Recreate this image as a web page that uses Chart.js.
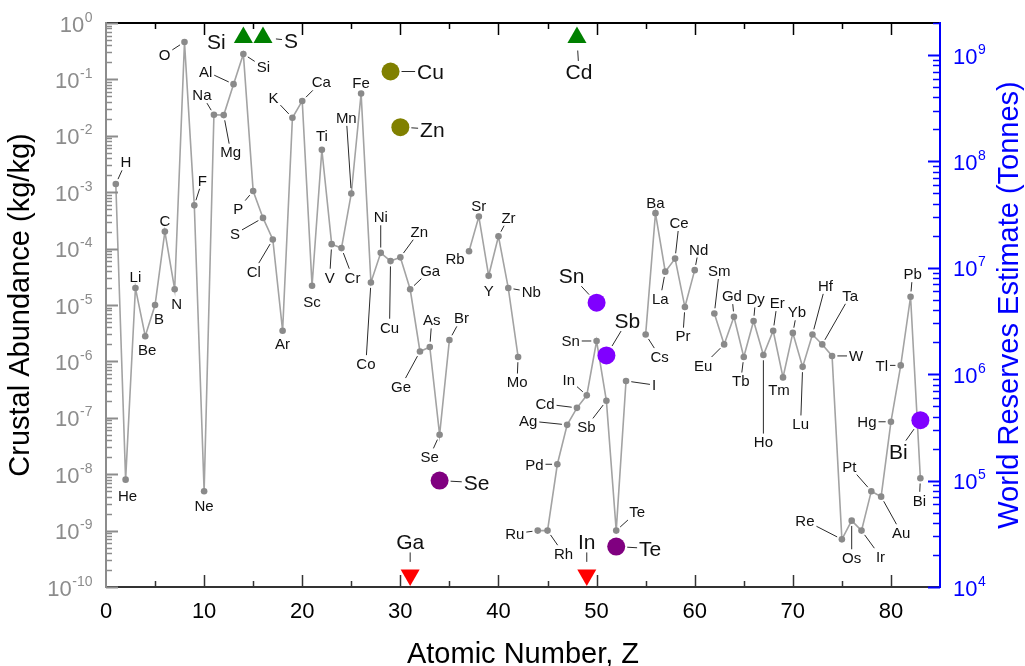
<!DOCTYPE html>
<html>
<head>
<meta charset="utf-8">
<script src="https://cdn.jsdelivr.net/npm/chart.js@4.4.1/dist/chart.umd.min.js"></script>
<style>
html,body{margin:0;padding:0;background:#fff;}
#wrap{width:1025px;height:666px;}
</style>
</head>
<body>
<div id="wrap"><canvas id="c" width="1025" height="666"></canvas></div>
<script>
// ---------------- DATA ----------------
const elementSymbols = ['H','He','Li','Be','B','C','N','O','F','Ne','Na','Mg','Al','Si','P','S','Cl','Ar','K','Ca',
  'Sc','Ti','V','Cr','Mn','Fe','Co','Ni','Cu','Zn','Ga','Ge','As','Se','Br','Kr','Rb','Sr','Y','Zr',
  'Nb','Mo','Tc','Ru','Rh','Pd','Ag','Cd','In','Sn','Sb','Te','I','Xe','Cs','Ba','La','Ce','Pr','Nd',
  'Pm','Sm','Eu','Gd','Tb','Dy','Ho','Er','Tm','Yb','Lu','Hf','Ta','W','Re','Os','Ir','Pt','Au','Hg',
  'Tl','Pb','Bi'];
// crustal abundance (kg/kg), index = Z-1 ; null = not plotted
const crustalAbundance = [1.4e-3,8e-9,2.0e-5,2.8e-6,1.0e-5,2.0e-4,1.9e-5,4.61e-1,5.85e-4,5e-9,
  2.36e-2,2.33e-2,8.23e-2,2.82e-1,1.05e-3,3.5e-4,1.45e-4,3.5e-6,2.09e-2,4.15e-2,
  2.2e-5,5.65e-3,1.2e-4,1.02e-4,9.5e-4,5.63e-2,2.5e-5,8.4e-5,6.0e-5,7.0e-5,
  1.9e-5,1.5e-6,1.8e-6,5e-8,2.4e-6,null,9e-5,3.7e-4,3.3e-5,1.65e-4,
  2.0e-5,1.2e-6,null,1e-9,1e-9,1.5e-8,7.5e-8,1.5e-7,2.5e-7,2.3e-6,
  2e-7,1e-9,4.5e-7,null,3e-6,4.25e-4,3.9e-5,6.65e-5,9.2e-6,4.15e-5,
  null,7.05e-6,2e-6,6.2e-6,1.2e-6,5.2e-6,1.3e-6,3.5e-6,5.2e-7,3.2e-6,
  8e-7,3e-6,2e-6,1.25e-6,7e-10,1.5e-9,1e-9,5e-9,4e-9,8.5e-8,
  8.5e-7,1.4e-5,8.5e-9];

// world reserves estimate (tonnes)
const reserveSymbols = ['Si','S','Cu','Zn','Ga','Se','Cd','In','Sn','Sb','Te','Bi'];
const reserveZ       = [14,16,29,30,31,34,48,49,50,51,52,83];
const reserveTonnes  = [1.46e9,1.46e9,7.0e8,2.1e8,1.3e4,1.0e5,1.46e9,1.3e4,4.7e6,1.5e6,2.4e4,3.7e5];
const reserveGroup   = ['above','above','olive','olive','below','purple','above','below','violet','violet','purple','violet'];

// tick labels
const xTickValues = [0,10,20,30,40,50,60,70,80];
const leftTickExponents = [-10,-9,-8,-7,-6,-5,-4,-3,-2,-1,0];
const rightTickExponents = [4,5,6,7,8,9];

// ---------------- STYLE / LAYOUT ----------------
const FONT = "'Liberation Sans', Arial, Helvetica, sans-serif";
const f = s => s + 'px ' + FONT;
const GRAY_AXIS = 'rgb(140,140,140)';
const BLUE = '#0000ff';

const groupStyles = {
  above:  {color:'#008000', style:'triangle', radius:11, rotation:0},
  below:  {color:'#ff0000', style:'triangle', radius:11, rotation:180},
  olive:  {color:'#808000', style:'circle', radius:9, rotation:0},
  purple: {color:'#800080', style:'circle', radius:9, rotation:0},
  violet: {color:'#8000ff', style:'circle', radius:9, rotation:0}
};

// label offsets for small element labels: [dx, dy, leader]
const labelOffsets = {
  H:[10,-22,1], He:[2,16,0], Li:[0,-11,0], Be:[2,13,0], B:[4,14,0], C:[0,-11,0], N:[2,14,0], O:[-20,13,1],
  F:[8,-25,1], Ne:[0,14,0], Na:[-12,-20,1], Mg:[7,37,1], Al:[-28,-13,1], Si:[20,13,1], P:[-15,18,1],
  S:[-28,16,1], Cl:[-19,32,1], Ar:[0,13,0], K:[-19,-20,1], Ca:[19,-19,1], Sc:[0,16,0], Ti:[0,-14,0],
  V:[-2,33,1], Cr:[11,29,1], Mn:[-5,-76,1], Fe:[0,-11,0], Co:[-5,81,1], Ni:[0,-36,1], Cu:[-1,66,1],
  Zn:[19,-26,1], Ga:[20,-19,1], Ge:[-19,35,1], As:[2,-27,1], Se:[-10,22,1], Br:[12,-22,1], Rb:[-14,7,0],
  Sr:[0,-11,0], Y:[0,15,0], Zr:[10,-19,1], Nb:[23,4,1], Mo:[-1,25,1], Ru:[-23,3,1], Rh:[16,23,1],
  Pd:[-23,0,1], Ag:[-39,-4,1], Cd:[-32,-4,1], In:[-18,-16,1], Sn:[-26,0,1], Sb:[-20,26,1], Te:[21,-19,1],
  I:[28,4,1], Cs:[14,22,1], Ba:[0,-11,0], La:[-5,27,1], Ce:[4,-36,1], Pr:[-2,29,1], Nd:[4,-21,1],
  Sm:[5,-43,1], Eu:[-21,21,1], Gd:[-2,-21,1], Tb:[-3,24,1], Dy:[2,-22,1], Ho:[0,87,1], Er:[4,-28,1],
  Tm:[-4,12,0], Yb:[4,-21,1], Lu:[-2,57,1], Hf:[13,-49,1], Ta:[28,-49,1], W:[24,0,1], Re:[-37,-19,1],
  Os:[0,37,1], Ir:[19,26,1], Pt:[-22,-25,1], Au:[20,36,1], Hg:[-24,0,1], Tl:[-19,0,1], Pb:[2,-23,1],
  Bi:[-1,22,1]
};
const reserveLabelOffsets = {
  Si:[-27,4], S:[28,3], Cd:[2,34], Cu:[40,0], Zn:[32,2], Se:[37,2], Sn:[-25,-27], Sb:[21,-35],
  Te:[34,2], Bi:[-22,31], Ga:[0,-33], In:[0,-33]
};

// ---------------- DATASETS ----------------
const mainData = elementSymbols.map((s, i) => ({x: i + 1, y: crustalAbundance[i]}));

const groups = ['olive','purple','violet','above','below'];
const reserveDatasets = groups.map(g => {
  const st = groupStyles[g];
  const pts = [];
  reserveSymbols.forEach((s, i) => { if (reserveGroup[i] === g) pts.push({x: reserveZ[i], y: reserveTonnes[i], sym: s}); });
  return {
    label: 'reserves-' + g, data: pts, yAxisID: 'y2', xAxisID: 'x', showLine: false,
    pointStyle: st.style, pointRadius: st.radius, pointRotation: st.rotation,
    pointBackgroundColor: st.color, pointBorderColor: st.color, pointBorderWidth: 0,
    pointHoverRadius: st.radius, clip: false
  };
});

const datasets = reserveDatasets.concat([{
  label: 'Crustal abundance', data: mainData, yAxisID: 'y', xAxisID: 'x',
  showLine: true, spanGaps: false, borderColor: 'rgb(163,163,163)', borderWidth: 1.6,
  pointRadius: 3.3, pointHoverRadius: 3.3, pointBackgroundColor: 'rgb(138,138,138)',
  pointBorderColor: 'rgb(138,138,138)', pointBorderWidth: 0, clip: false
}]);

// ---------------- PLUGIN: ticks, tick labels, titles, element labels ----------------
function drawLabel(ctx, text, px, py, dx, dy, size, leader, r) {
  ctx.font = f(size);
  const w = ctx.measureText(text).width;
  const cap = size * 0.72;
  const cx = px + dx, cy = py + dy;
  if (leader) {
    const hw = w / 2 + 2, hh = cap / 2 + 3;
    const adx = Math.abs(dx), ady = Math.abs(dy);
    const s = Math.min(adx > 0.01 ? hw / adx : Infinity, ady > 0.01 ? hh / ady : Infinity);
    if (s < 1) {
      const ex = cx - dx * s, ey = cy - dy * s;
      const len = Math.hypot(dx, dy);
      const sx = px + dx / len * (r + 2), sy = py + dy / len * (r + 2);
      if (Math.hypot(ex - sx, ey - sy) > 3) {
        ctx.beginPath();
        ctx.moveTo(sx, sy); ctx.lineTo(ex, ey);
        ctx.strokeStyle = '#2a2a2a'; ctx.lineWidth = 1;
        ctx.stroke();
      }
    }
  }
  ctx.fillStyle = '#111';
  ctx.textAlign = 'center';
  ctx.textBaseline = 'alphabetic';
  ctx.fillText(text, cx, cy + cap / 2);
}

function powLabel(ctx, x, y, exp, color, align) {
  const main = '10', sup = String(exp);
  ctx.font = f(22); const mw = ctx.measureText(main).width;
  ctx.font = f(14); const sw = ctx.measureText(sup).width;
  const x0 = align === 'right' ? x - mw - sw : x;
  ctx.fillStyle = color; ctx.textAlign = 'left'; ctx.textBaseline = 'alphabetic';
  ctx.font = f(22); ctx.fillText(main, x0, y + 8.5);
  ctx.font = f(14); ctx.fillText(sup, x0 + mw + 0.5, y - 1.5);
}

const annotPlugin = {
  id: 'annot',
  afterDraw(chart) {
    const ctx = chart.ctx;
    const xs = chart.scales.x, ys = chart.scales.y, y2 = chart.scales.y2;
    const ca = chart.chartArea;
    ctx.save();

    // --- tick marks (inward) ---
    const tick = (x1, y1, x2, y2_, color, lw) => {
      ctx.beginPath(); ctx.moveTo(x1, y1); ctx.lineTo(x2, y2_);
      ctx.strokeStyle = color; ctx.lineWidth = lw; ctx.stroke();
    };
    for (let v = 5; v <= 80; v += 5) {
      const x = Math.round(xs.getPixelForValue(v)) + 0.5;
      const L = v % 10 === 0 ? 12 : 6;
      tick(x, ca.bottom, x, ca.bottom - L, '#333', 1.5);
      tick(x, ca.top, x, ca.top + L, '#000', 1.5);
    }
    // left log ticks
    for (let k = -10; k <= 0; k++) {
      for (let m = 1; m <= 9; m++) {
        const v = m * Math.pow(10, k);
        if (v > 1.0000001) break;
        const y = Math.round(ys.getPixelForValue(v)) + 0.5;
        tick(ca.left, y, ca.left + (m === 1 ? 12 : 6), y, GRAY_AXIS, m === 1 ? 2 : 1.5);
      }
    }
    // right log ticks
    for (let k = 4; k <= 9; k++) {
      for (let m = 1; m <= 9; m++) {
        const v = m * Math.pow(10, k);
        if (v > 2.0000001e9) break;
        const y = Math.round(y2.getPixelForValue(v)) + 0.5;
        tick(ca.right, y, ca.right - (m === 1 ? 12 : 7), y, BLUE, m === 1 ? 2 : 1.5);
      }
    }

    // --- tick labels ---
    leftTickExponents.forEach(k => powLabel(ctx, 92, ys.getPixelForValue(Math.pow(10, k)), k, GRAY_AXIS, 'right'));
    rightTickExponents.forEach(k => powLabel(ctx, 953, y2.getPixelForValue(Math.pow(10, k)), k, BLUE, 'left'));
    ctx.font = f(22); ctx.fillStyle = '#000'; ctx.textAlign = 'center'; ctx.textBaseline = 'alphabetic';
    xTickValues.forEach(v => ctx.fillText(String(v), xs.getPixelForValue(v), ca.bottom + 31));

    // --- axis titles ---
    ctx.font = f(29); ctx.fillStyle = '#000'; ctx.textAlign = 'center';
    ctx.fillText('Atomic Number, Z', (ca.left + ca.right) / 2, 663);
    ctx.save(); ctx.translate(29, (ca.top + ca.bottom) / 2); ctx.rotate(-Math.PI / 2);
    ctx.fillText('Crustal Abundance (kg/kg)', 0, 0); ctx.restore();
    ctx.save(); ctx.translate(1018, (ca.top + ca.bottom) / 2); ctx.rotate(-Math.PI / 2);
    ctx.fillStyle = BLUE; ctx.fillText('World Reserves Estimate (Tonnes)', 0, 0); ctx.restore();

    // --- element labels on the abundance curve ---
    const mainMeta = chart.getDatasetMeta(chart.data.datasets.length - 1);
    elementSymbols.forEach((s, i) => {
      if (crustalAbundance[i] === null) return;
      const el = mainMeta.data[i];
      const o = labelOffsets[s];
      if (!o || !el) return;
      drawLabel(ctx, s, el.x, el.y, o[0], o[1], 15, o[2], 3.3);
    });
    // --- reserve labels ---
    groups.forEach((g, di) => {
      const meta = chart.getDatasetMeta(di);
      chart.data.datasets[di].data.forEach((p, j) => {
        const el = meta.data[j];
        const o = reserveLabelOffsets[p.sym];
        drawLabel(ctx, p.sym, el.x, el.y, o[0], o[1], 21, 1, groupStyles[g].radius);
      });
    });
    ctx.restore();
  }
};

// ---------------- CHART ----------------
const hidden = {display: false};
new Chart(document.getElementById('c'), {
  type: 'scatter',
  data: {datasets},
  options: {
    responsive: false, animation: false, devicePixelRatio: 1, events: [],
    layout: {padding: {left: 106, right: 85, top: 23, bottom: 79}},
    plugins: {legend: hidden, tooltip: {enabled: false}, title: hidden},
    scales: {
      x: {type: 'linear', position: 'bottom', min: 0, max: 85,
          ticks: {display: false, stepSize: 5}, grid: {display: false, drawTicks: false},
          border: {display: true, color: '#333', width: 2}, title: hidden},
      xTop: {type: 'linear', position: 'top', min: 0, max: 85,
          ticks: {display: false, stepSize: 5}, grid: {display: false, drawTicks: false},
          border: {display: true, color: '#000', width: 2}, title: hidden},
      y: {type: 'logarithmic', position: 'left', min: 1e-10, max: 1,
          ticks: {display: false}, grid: {display: false, drawTicks: false},
          border: {display: true, color: GRAY_AXIS, width: 2}, title: hidden},
      y2: {type: 'logarithmic', position: 'right', min: 1e4, max: 2e9,
          ticks: {display: false}, grid: {display: false, drawTicks: false},
          border: {display: true, color: BLUE, width: 2}, title: hidden}
    }
  },
  plugins: [annotPlugin]
});
</script>
</body>
</html>
